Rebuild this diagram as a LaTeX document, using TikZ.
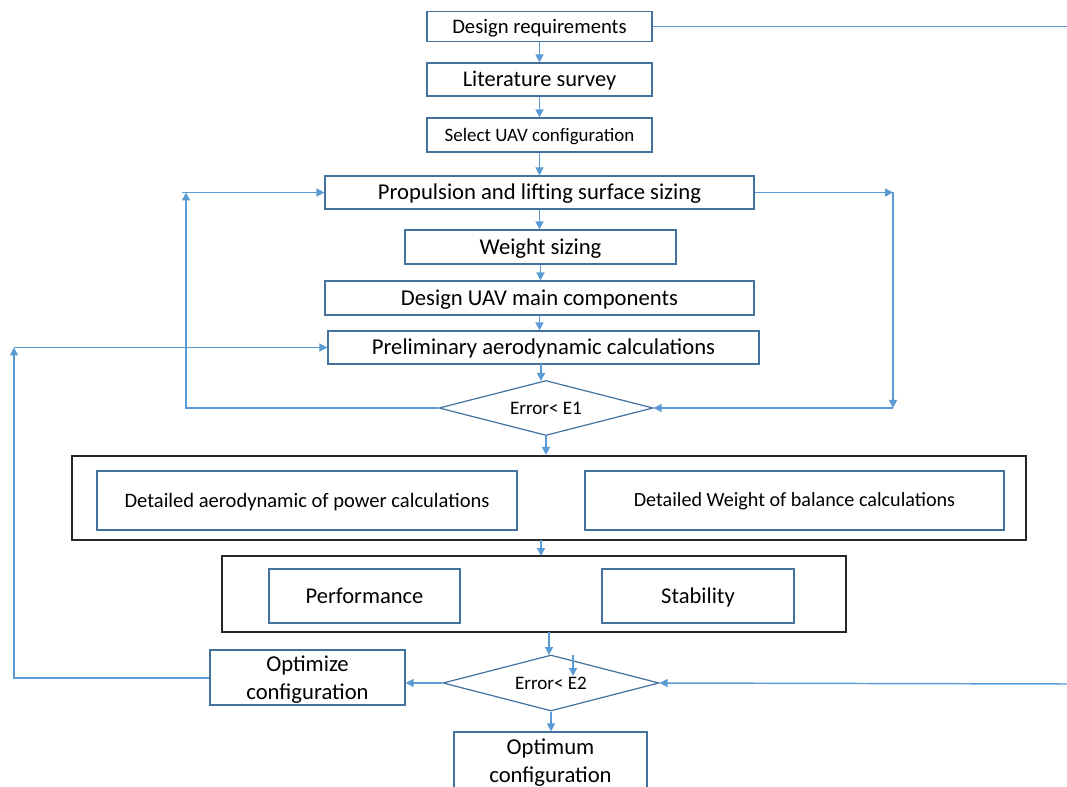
\documentclass[tikz,border=0pt]{standalone}
\usepackage{fontspec}
\setmainfont{Carlito}
\usetikzlibrary{arrows.meta,shapes.geometric}
\definecolor{flow}{HTML}{5B9BD5}
\definecolor{edge}{HTML}{41719C}
\tikzset{
  sz/.style 2 args={minimum width=#1*0.75pt, minimum height=#2*0.75pt},
  % font size plus a fixed text box, so the capitals sit on the node centre
  fs/.code={%
    \pgfmathsetlengthmacro\fsH{0.8*#1pt}%
    \pgfmathsetlengthmacro\fsD{0.16*#1pt}%
    \edef\fsSet{\noexpand\tikzset{text height=\fsH, text depth=\fsD}}\fsSet
    \tikzset{font=\fontsize{#1}{#1}\selectfont}},
  stepbox/.style={draw=edge, line width=0.9pt, inner sep=0pt},
  twoline/.style={align=center, font=\fontsize{17}{#1}\selectfont},
  groupbox/.style={draw=black!85, line width=1.6pt, inner sep=0pt},
  test/.style={diamond, shape aspect=3.9, draw=edge, line width=0.9pt, inner sep=0pt, fs=14.3},
  conn/.style={draw=flow, line width=1.1pt},
  arr/.style={conn, -{Triangle[length=6pt,width=6pt]}},
}
\begin{document}
\begin{tikzpicture}[x=0.75pt, y=-0.75pt]
\useasboundingbox (0,0) rectangle (1067,787);
\clip (0,0) rectangle (1067,787);
\fill[white] (0,0) rectangle (1067,787);

% main chain of design steps
\node[stepbox, sz={225}{30}, fs=15.5] (dr) at (539.5,26.5) {Design requirements};
\node[stepbox, sz={225}{33}, fs=16.8] (ls) at (539.5,79.5) {Literature survey};
\node[stepbox, sz={225}{34}, fs=14.2] (su) at (539.5,135) {Select UAV configuration};
\node[stepbox, sz={429}{33}, fs=17] (ps) at (539.5,192.5) {Propulsion and lifting surface sizing};
\node[stepbox, sz={271}{34}, fs=17] (ws) at (540.5,247) {Weight sizing};
\node[stepbox, sz={429}{34}, fs=17] (dm) at (539.5,298) {Design UAV main components};
\node[stepbox, sz={431}{33}, fs=17] (pa) at (543.5,347.5) {Preliminary aerodynamic calculations};
\node[test, sz={214}{55}] (e1) at (546,408) {Error< E1};

% detailed calculation group
\node[groupbox, sz={954}{84}] (g1) at (549,498) {};
\node[stepbox, sz={420}{59}, fs=15.4] (da) at (307,500.5) {Detailed aerodynamic of power calculations};
\node[stepbox, sz={419}{59}, fs=15.1] (dw) at (794.5,500.5) {Detailed Weight of balance calculations};

% performance / stability group
\node[groupbox, sz={624}{76}] (g2) at (534,594) {};
\node[stepbox, sz={191}{54}, fs=16.9] (pf) at (364.5,596) {Performance};
\node[stepbox, sz={192}{54}, fs=16.9] (st) at (698,596) {Stability};

\node[test, sz={216}{56}] (e2) at (551,683) {Error< E2};
\node[stepbox, sz={195}{55}, twoline=20.5, text depth=0pt] (oc) at (307.5,677.5) {Optimize\\configuration};
\node[stepbox, sz={193}{62}, twoline=21] (om) at (550.5,763) {Optimum\\configuration};

% free ends and bends
\coordinate (rq) at (1067,26.5);
\coordinate (rin) at (1067,684);
\coordinate (l1) at (186,192.5);
\coordinate (l1s) at (182,192.5);
\coordinate (r1) at (893,192.5);
\coordinate (r2) at (893,408);
\coordinate (l2) at (14,347.5);
\coordinate (l2b) at (14,678);
\coordinate (kt) at (573,655);
\coordinate (kb) at (573,676);
\coordinate (a1t) at (541,364);
\coordinate (a1b) at (541,381);
\coordinate (a2t) at (541,540);
\coordinate (a2b) at (541,556);
\coordinate (a3t) at (549,632);
\coordinate (a3b) at (549,655);

% straight flow
\draw[conn] (dr.east) -- (rq);
\draw[arr] (dr.south) -- (ls.north);
\draw[arr] (ls.south) -- (su.north);
\draw[arr] (su.south) -- (ps.north);
\draw[arr] (ps.south) -- (ps.south |- ws.north);
\draw[arr] (ws.south) -- (ws.south |- dm.north);
\draw[arr] (dm.south) -- (dm.south |- pa.north);
\draw[arr] (a1t) -- (a1b);
\draw[arr] (e1.south) -- (e1.south |- g1.north);
\draw[arr] (a2t) -- (a2b);
\draw[arr] (a3t) -- (a3b);
\draw[arr] (kt) -- (kb);
\draw[arr] (e2.south) -- (e2.south |- om.north);
\draw[arr] (e2.west) -- (e2.west -| oc.east);
\draw[arr] (rin) -- (e2.east);

% inner iteration loop
\draw[arr] (e1.west) -- (e1.west -| l1) -- (l1);
\draw[arr] (l1s) -- (ps.west);
\draw[arr] (ps.east) -- (r1);
\draw[arr] (r1) -- (r2);
\draw[arr] (r2) -- (e1.east);

% outer optimisation loop
\draw[arr] (oc.west |- l2b) -- (l2b) -- (l2);
\draw[arr] (l2) -- (pa.west |- l2);
\end{tikzpicture}
\end{document}
